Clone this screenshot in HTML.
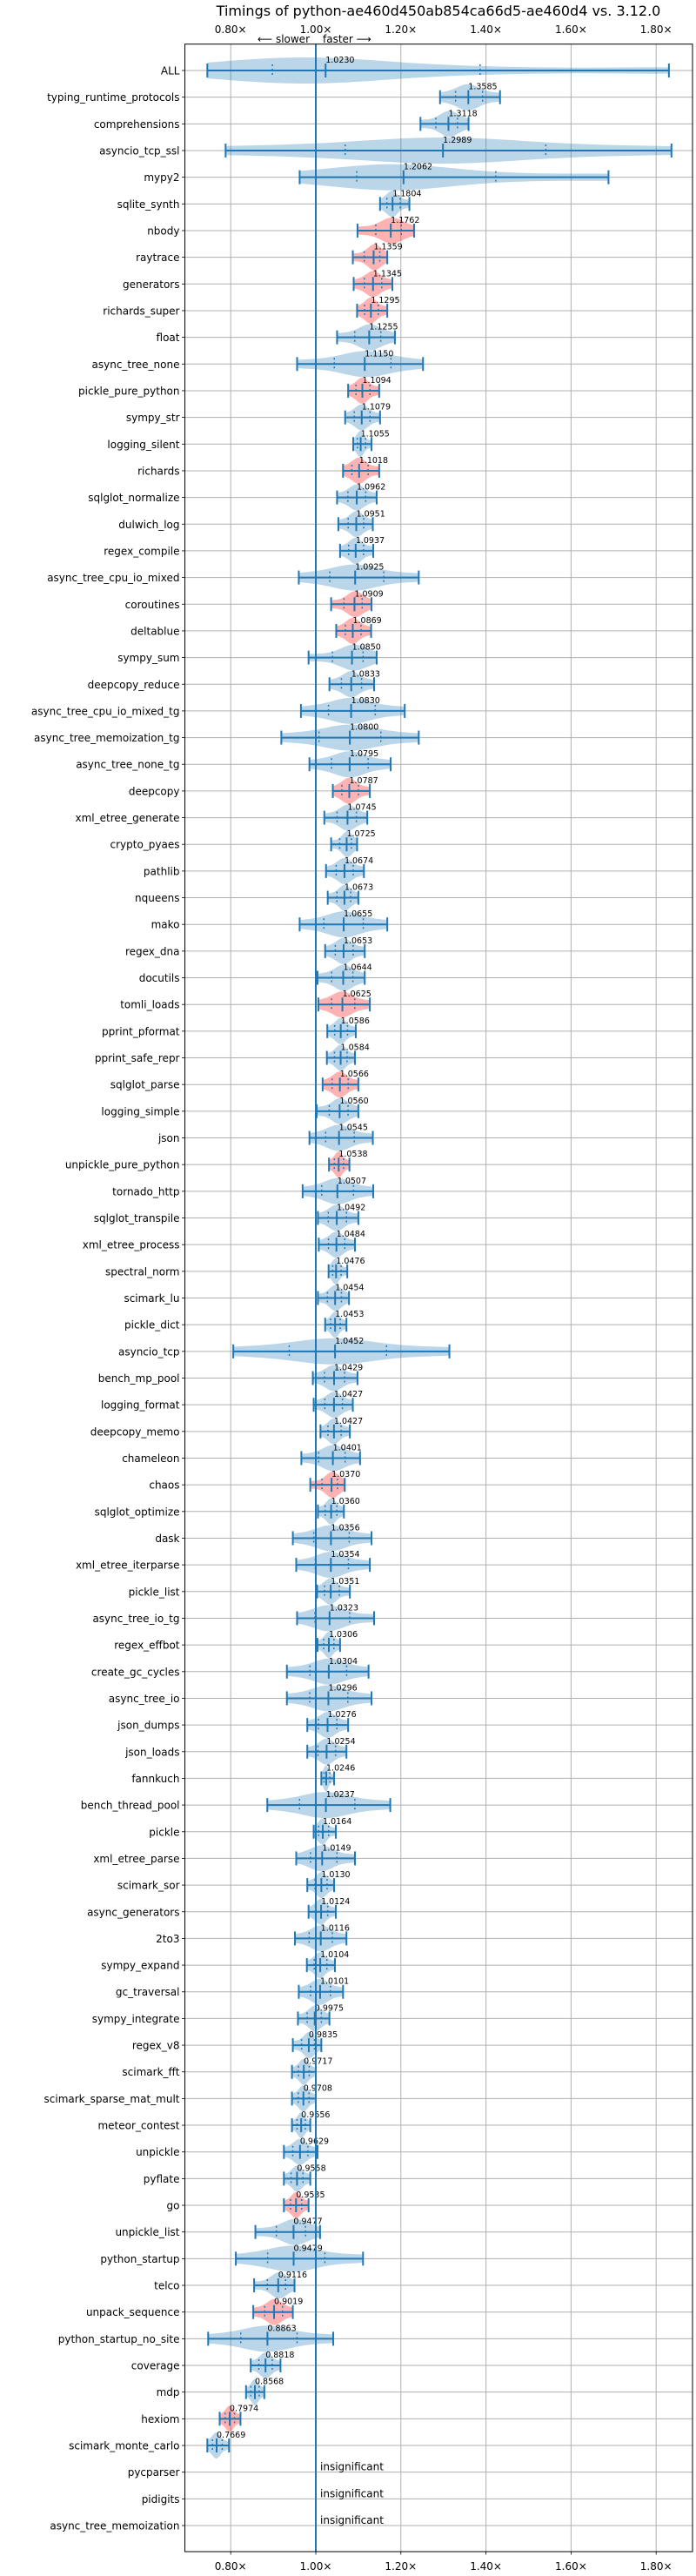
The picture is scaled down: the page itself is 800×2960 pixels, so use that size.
<!DOCTYPE html>
<html><head><meta charset="utf-8"><title>Timings</title>
<style>
html,body{margin:0;padding:0;background:#fff;}
svg{display:block;font-family:"DejaVu Sans","Liberation Sans",sans-serif;}
</style></head>
<body>
<svg id="chart" width="800" height="2960" viewBox="0 0 800 2960" xmlns="http://www.w3.org/2000/svg">
<rect x="0" y="0" width="800" height="2960" fill="#fff"/>
<text x="504" y="18" font-size="16" text-anchor="middle" fill="#000">Timings of python-ae460d450ab854ca66d5-ae460d4 vs. 3.12.0</text>
<text x="356" y="49" font-size="12" text-anchor="end" fill="#000">⟵ slower</text>
<text x="371" y="49" font-size="12" text-anchor="start" fill="#000">faster ⟶</text>
<g id="grid"></g>
<g id="marks"></g>
<g id="axes"></g>
</svg>
<script>
const benchNames = ["ALL","typing_runtime_protocols","comprehensions","asyncio_tcp_ssl","mypy2","sqlite_synth","nbody","raytrace","generators","richards_super","float","async_tree_none","pickle_pure_python","sympy_str","logging_silent","richards","sqlglot_normalize","dulwich_log","regex_compile","async_tree_cpu_io_mixed","coroutines","deltablue","sympy_sum","deepcopy_reduce","async_tree_cpu_io_mixed_tg","async_tree_memoization_tg","async_tree_none_tg","deepcopy","xml_etree_generate","crypto_pyaes","pathlib","nqueens","mako","regex_dna","docutils","tomli_loads","pprint_pformat","pprint_safe_repr","sqlglot_parse","logging_simple","json","unpickle_pure_python","tornado_http","sqlglot_transpile","xml_etree_process","spectral_norm","scimark_lu","pickle_dict","asyncio_tcp","bench_mp_pool","logging_format","deepcopy_memo","chameleon","chaos","sqlglot_optimize","dask","xml_etree_iterparse","pickle_list","async_tree_io_tg","regex_effbot","create_gc_cycles","async_tree_io","json_dumps","json_loads","fannkuch","bench_thread_pool","pickle","xml_etree_parse","scimark_sor","async_generators","2to3","sympy_expand","gc_traversal","sympy_integrate","regex_v8","scimark_fft","scimark_sparse_mat_mult","meteor_contest","unpickle","pyflate","go","unpickle_list","python_startup","telco","unpack_sequence","python_startup_no_site","coverage","mdp","hexiom","scimark_monte_carlo","pycparser","pidigits","async_tree_memoization"];
const medians = [1.0230,1.3585,1.3118,1.2989,1.2062,1.1804,1.1762,1.1359,1.1345,1.1295,1.1255,1.1150,1.1094,1.1079,1.1055,1.1018,1.0962,1.0951,1.0937,1.0925,1.0909,1.0869,1.0850,1.0833,1.0830,1.0800,1.0795,1.0787,1.0745,1.0725,1.0674,1.0673,1.0655,1.0653,1.0644,1.0625,1.0586,1.0584,1.0566,1.0560,1.0545,1.0538,1.0507,1.0492,1.0484,1.0476,1.0454,1.0453,1.0452,1.0429,1.0427,1.0427,1.0401,1.0370,1.0360,1.0356,1.0354,1.0351,1.0323,1.0306,1.0304,1.0296,1.0276,1.0254,1.0246,1.0237,1.0164,1.0149,1.0130,1.0124,1.0116,1.0104,1.0101,0.9975,0.9835,0.9717,0.9708,0.9656,0.9629,0.9558,0.9535,0.9477,0.9479,0.9116,0.9019,0.8863,0.8818,0.8568,0.7974,0.7669,null,null,null];
const mins = [0.745,1.292,1.246,0.788,0.962,1.151,1.098,1.087,1.089,1.097,1.050,0.956,1.076,1.069,1.088,1.064,1.050,1.053,1.057,0.960,1.036,1.048,0.983,1.032,0.965,0.919,0.985,1.040,1.020,1.036,1.024,1.028,0.962,1.022,1.004,1.006,1.027,1.026,1.016,1.002,0.985,1.031,0.969,1.005,1.007,1.030,1.005,1.022,0.806,0.993,0.995,1.011,0.966,0.987,1.005,0.946,0.954,1.003,0.956,1.004,0.932,0.932,0.980,0.980,1.013,0.886,0.995,0.954,0.980,0.983,0.951,0.979,0.960,0.958,0.946,0.944,0.944,0.944,0.925,0.925,0.925,0.858,0.812,0.855,0.853,0.747,0.847,0.836,0.774,0.745,null,null,null];
const maxs = [1.830,1.433,1.359,1.836,1.688,1.220,1.231,1.168,1.180,1.168,1.186,1.252,1.149,1.151,1.131,1.149,1.143,1.134,1.135,1.242,1.131,1.130,1.143,1.137,1.209,1.242,1.176,1.127,1.121,1.097,1.113,1.100,1.168,1.115,1.115,1.127,1.094,1.092,1.100,1.100,1.134,1.079,1.135,1.100,1.092,1.074,1.078,1.072,1.314,1.098,1.087,1.080,1.104,1.068,1.066,1.131,1.127,1.080,1.137,1.057,1.124,1.131,1.076,1.072,1.043,1.175,1.047,1.092,1.043,1.047,1.072,1.045,1.064,1.032,1.013,1.000,1.000,0.987,1.004,0.987,0.983,1.010,1.111,0.950,0.946,1.041,0.917,0.879,0.823,0.796,null,null,null];
const slowerFlags = [0,0,0,0,0,0,1,1,1,1,0,0,1,0,0,1,0,0,0,0,1,1,0,0,0,0,0,1,0,0,0,0,0,0,0,1,0,0,1,0,0,1,0,0,0,0,0,0,0,0,0,0,0,1,0,0,0,0,0,0,0,0,0,0,0,0,0,0,0,0,0,0,0,0,0,0,0,0,0,0,1,0,0,0,1,0,0,0,1,0,0,0,0];
const xTicks = [0.8,1.0,1.2,1.4,1.6,1.8];
const xTickLabels = ["0.80×","1.00×","1.20×","1.40×","1.60×","1.80×"];

const NS = "http://www.w3.org/2000/svg";
const L = 212.5, R = 796, T = 50.7, B = 2932;
const xs = v => 363 + (v - 1) * 489;
const ys = i => 81 + i * (2902 - 81) / (benchNames.length - 1);
const BLUE = "#1f77b4";
function mk(tag, attrs, parent) {
  const e = document.createElementNS(NS, tag);
  for (const k in attrs) e.setAttribute(k, attrs[k]);
  parent.appendChild(e);
  return e;
}
const grid = document.getElementById("grid");
const marks = document.getElementById("marks");
const axes = document.getElementById("axes");

xTicks.forEach((t, k) => {
  const g = mk("line", {x1: xs(t), x2: xs(t), y1: T, y2: B, stroke: "#b0b0b0", "stroke-width": 1}, grid);
  
  
  const top = mk("text", {x: xs(t), y: 38, "font-size": 12, "text-anchor": "middle", fill: "#000"}, axes);
  top.textContent = xTickLabels[k];
  
  
  const bot = mk("text", {x: xs(t), y: 2953, "font-size": 12, "text-anchor": "middle", fill: "#000"}, axes);
  bot.textContent = xTickLabels[k];
  
  
  mk("line", {x1: xs(t), x2: xs(t), y1: B, y2: B + 3.5, stroke: "#000", "stroke-width": 0.8}, axes);
});

benchNames.forEach((n, i) => {
  const y = ys(i);
  const g = mk("line", {x1: L, x2: R, y1: y, y2: y, stroke: "#b0b0b0", "stroke-width": 1}, grid);
  
  
  mk("line", {x1: L - 3.5, x2: L, y1: y, y2: y, stroke: "#000", "stroke-width": 0.8}, axes);
  const lab = mk("text", {x: L - 6, y: y + 4.5, "font-size": 12, "text-anchor": "end", fill: "#000"}, axes);
  lab.textContent = n;
  
  
});

benchNames.forEach((n, i) => {
  const y = ys(i);
  const med = medians[i];
  if (med === null) {
    const t = mk("text", {x: xs(1) + 5, y: y - 2, "font-size": 12, fill: "#000"}, marks);
    t.textContent = "insignificant";
    
    
    return;
  }
  const lo = mins[i], hi = maxs[i];
  const q1 = med - (med - lo) * 0.45, q3 = med + (hi - med) * 0.45;
  const bw = Math.max((hi - lo) / 6, 0.003);
  const pts = [lo, q1, med, med, med, q3, hi];
  const dens = x => pts.reduce((s, p) => s + Math.exp(-0.5 * ((x - p) / bw) ** 2), 0);
  const N = 40, samp = [];
  let mx = 0;
  for (let k = 0; k <= N; k++) { const x = lo + (hi - lo) * k / N; const d = dens(x); samp.push([x, d]); if (d > mx) mx = d; }
  let top = "", bot = "";
  samp.forEach(([x, d], k) => { const h = 15 * d / mx; top += (k ? "L" : "M") + xs(x).toFixed(1) + "," + (y - h).toFixed(1); });
  for (let k = samp.length - 1; k >= 0; k--) { const [x, d] = samp[k]; bot += "L" + xs(x).toFixed(1) + "," + (y + 15 * d / mx).toFixed(1); }
  const body = mk("path", {d: top + bot + "Z", fill: slowerFlags[i] ? "rgba(255,0,0,0.3)" : "rgba(31,119,180,0.3)"}, marks);
  
  
  const wh = mk("line", {x1: xs(lo), x2: xs(hi), y1: y, y2: y, stroke: BLUE, "stroke-width": 2}, marks);
  
  
  [lo, hi].forEach(v => {
    const c = mk("line", {x1: xs(v), x2: xs(v), y1: y - 8, y2: y + 8, stroke: BLUE, "stroke-width": 2}, marks);
    
    
  });
  [q1, q3].forEach(v => {
    const q = mk("line", {x1: xs(v), x2: xs(v), y1: y - 7, y2: y + 7, stroke: BLUE, "stroke-width": 1.5, "stroke-dasharray": "2,3"}, marks);
    
    
  });
  const m = mk("line", {x1: xs(med), x2: xs(med), y1: y - 8, y2: y + 8, stroke: BLUE, "stroke-width": 2}, marks);
  
  
  const vt = mk("text", {x: xs(med), y: y - 9, "font-size": 9.5, fill: "#000"}, marks);
  vt.textContent = med.toFixed(4);
  
  
});

const ref = mk("line", {x1: xs(1), x2: xs(1), y1: T, y2: B, stroke: BLUE, "stroke-width": 2}, marks);


const frame = mk("rect", {x: L, y: T, width: R - L, height: B - T, fill: "none", stroke: "#000", "stroke-width": 1}, axes);


</script>
</body></html>
